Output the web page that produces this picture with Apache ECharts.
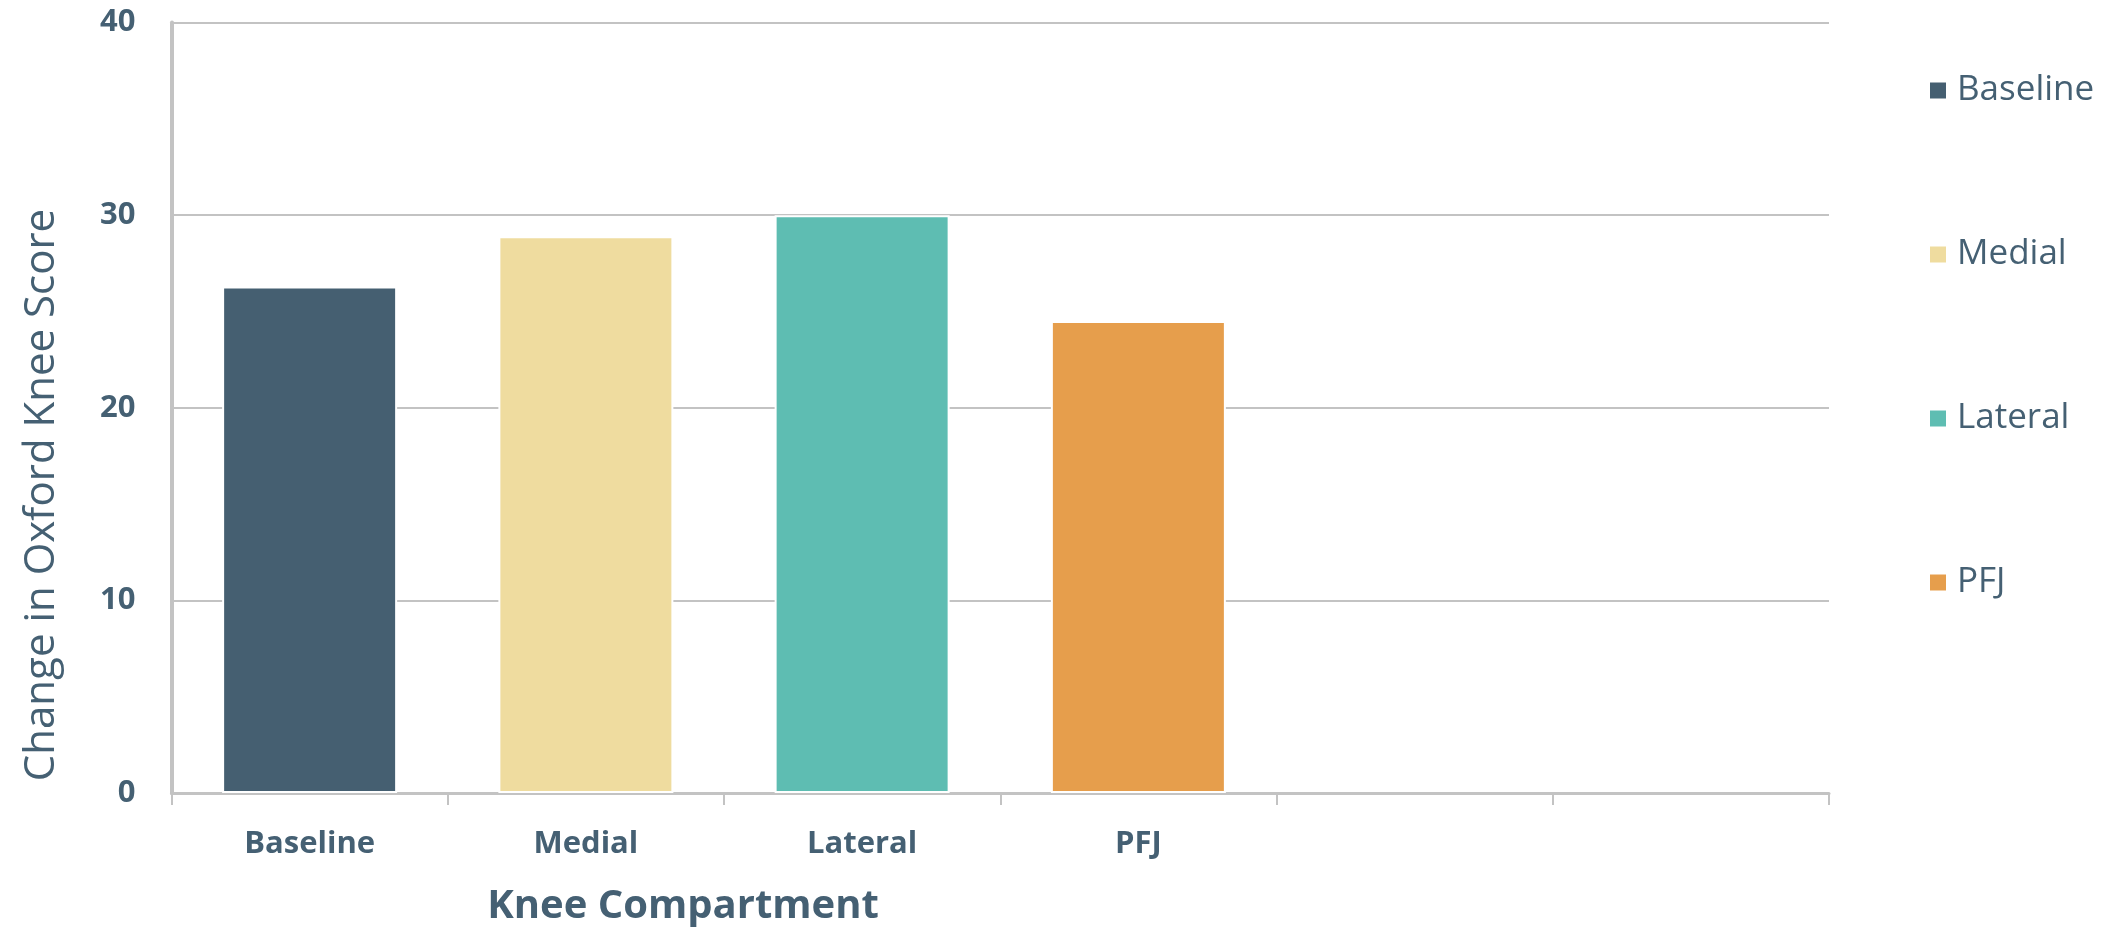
<!DOCTYPE html>
<html>
<head>
<meta charset="utf-8">
<title>Change in Oxford Knee Score by Knee Compartment</title>
<script src="https://cdn.jsdelivr.net/npm/echarts@6/dist/echarts.min.js"></script>
<style>
  html, body { margin: 0; padding: 0; background: #ffffff; }
  #chart { width: 2120px; height: 929px; }
</style>
</head>
<body>
<div id="chart"></div>
<script>
// Compartments on the x axis (two trailing empty slots keep the axis width)
const categories = ['Baseline', 'Medial', 'Lateral', 'PFJ', '', ''];
// Change in Oxford Knee Score per compartment
const seriesNames = ['Baseline', 'Medial', 'Lateral', 'PFJ'];
const scores = [26.3, 28.9, 30.0, 24.5];
const seriesColors = ['#455f71', '#efdc9f', '#5ebdb2', '#e69e4c'];
// Value axis ticks
const yTicks = [0, 10, 20, 30, 40];

const textColor = '#456073';
const gridGray = '#c3c3c3';

const chart = echarts.init(document.getElementById('chart'), null, { renderer: 'canvas' });

// One series per compartment; stacking lets each bar sit centred in its own category
const series = seriesNames.map((name, i) => ({
  name: name,
  type: 'bar',
  stack: 'score',
  barWidth: 175,
  data: categories.map((c, j) => (j === i ? scores[i] : '-')),
  itemStyle: { color: seriesColors[i], borderColor: '#ffffff', borderWidth: 2 },
  emphasis: { disabled: true }
}));

chart.setOption({
  animation: false,
  backgroundColor: '#ffffff',
  grid: { left: 171.5, right: 291, top: 22.5, bottom: 136, containLabel: false },
  legend: {
    orient: 'vertical',
    left: 1923,
    top: 68,
    itemWidth: 18,
    itemHeight: 18,
    itemGap: 129,
    icon: 'rect',
    data: seriesNames,
    textStyle: {
      fontFamily: '"Open Sans", "Noto Sans", sans-serif',
      fontSize: 35,
      color: textColor,
      padding: [0, 0, 0, 5]
    }
  },
  title: {
    text: 'Knee Compartment',
    left: 678,
    top: 882,
    textAlign: 'center',
    textStyle: {
      fontFamily: '"Open Sans", "Noto Sans", sans-serif',
      fontWeight: 'bold',
      fontSize: 40,
      color: textColor
    }
  },
  graphic: [{
    type: 'text',
    x: 42,
    y: 495,
    rotation: Math.PI / 2,
    style: {
      text: 'Change in Oxford Knee Score',
      fontFamily: '"Open Sans", "Noto Sans", sans-serif',
      fontSize: 42,
      fill: textColor,
      textAlign: 'center',
      textVerticalAlign: 'middle'
    }
  }],
  xAxis: {
    type: 'category',
    data: categories,
    boundaryGap: true,
    axisLine: { show: true, lineStyle: { color: gridGray, width: 3 } },
    axisTick: { show: true, length: 12, alignWithLabel: false, lineStyle: { color: gridGray, width: 2 } },
    axisLabel: {
      margin: 36,
      fontFamily: '"Open Sans", "Noto Sans", sans-serif',
      fontWeight: 'bold',
      fontSize: 31,
      color: textColor,
      interval: 0
    },
    splitLine: { show: false }
  },
  yAxis: {
    type: 'value',
    min: yTicks[0],
    max: yTicks[yTicks.length - 1],
    interval: yTicks[1] - yTicks[0],
    axisLine: { show: true, lineStyle: { color: gridGray, width: 4 } },
    axisTick: { show: false },
    axisLabel: {
      margin: 36,
      fontFamily: '"Open Sans", "Noto Sans", sans-serif',
      fontWeight: 'bold',
      fontSize: 31,
      color: textColor
    },
    splitLine: { show: true, lineStyle: { color: gridGray, width: 2 } }
  },
  series: series
});
</script>
</body>
</html>
